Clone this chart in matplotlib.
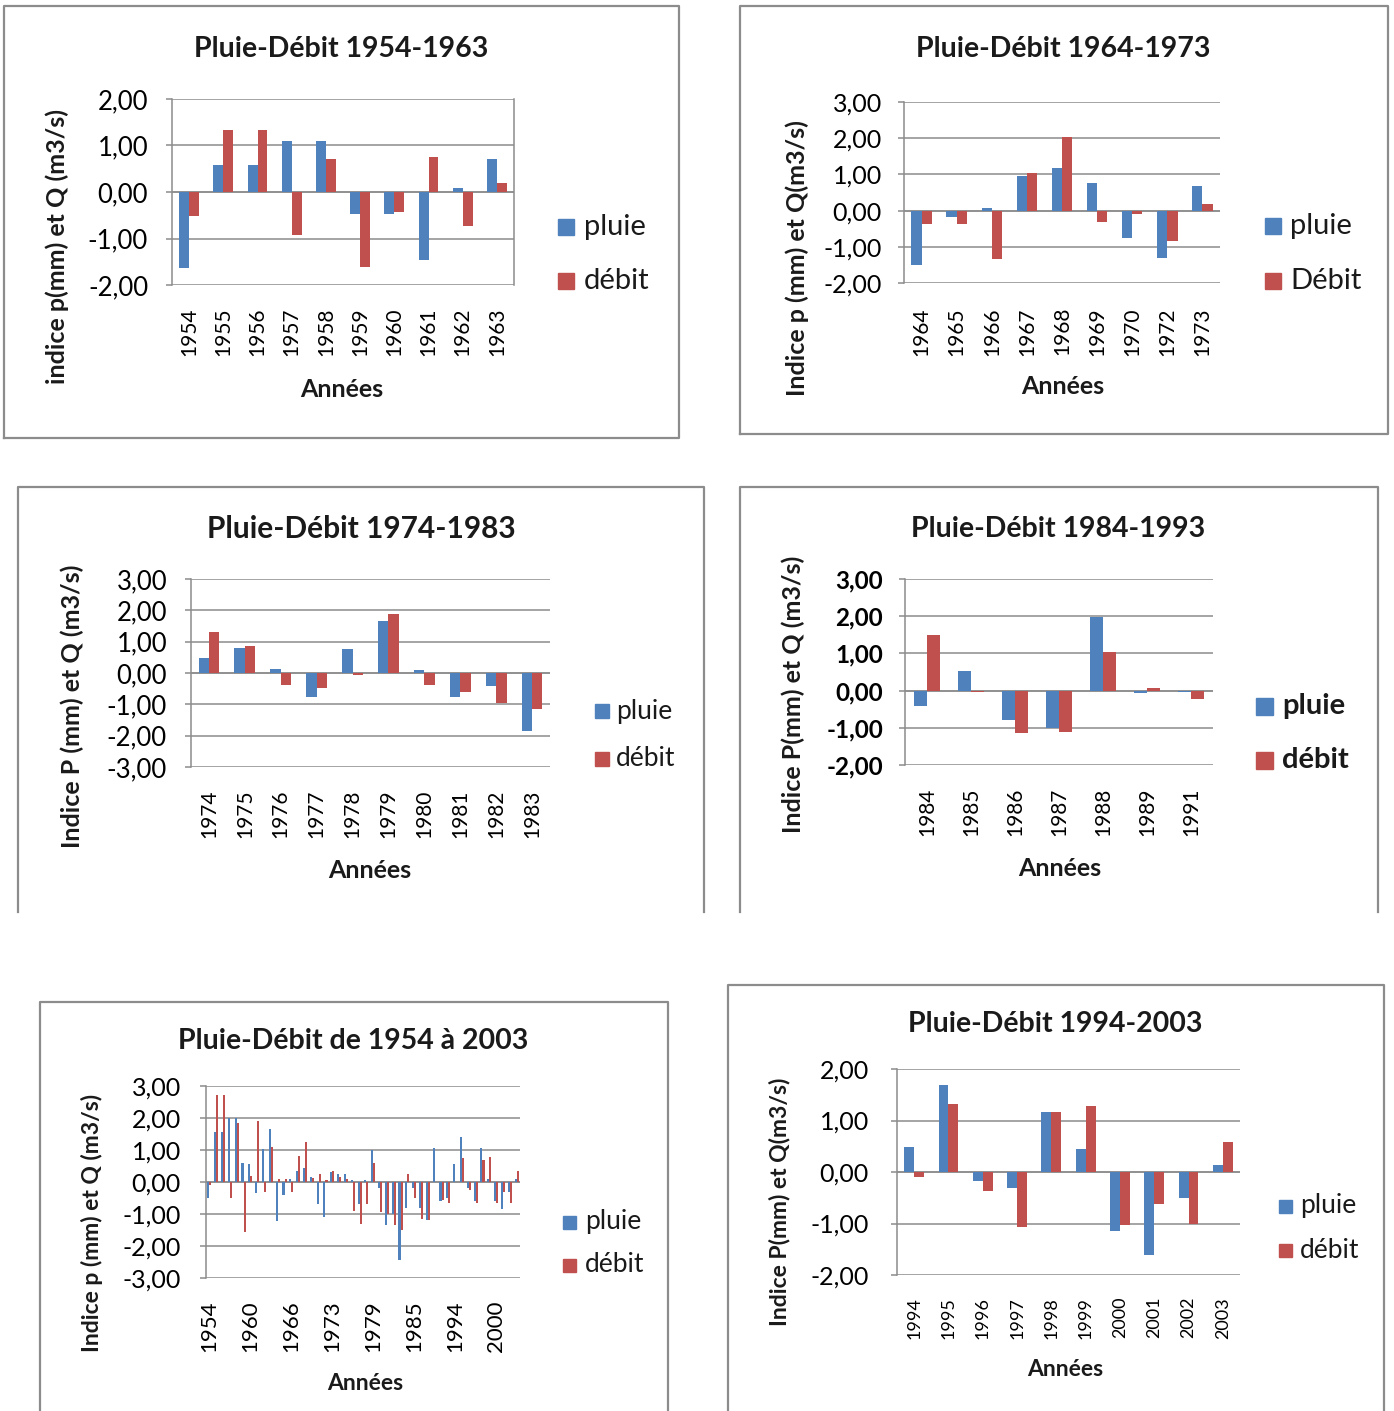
import numpy as np
import matplotlib
matplotlib.use("Agg")
import matplotlib.pyplot as plt
from matplotlib.patches import Rectangle
from matplotlib.lines import Line2D

# indices pluie / débit par décennie
years_54 = [1954, 1955, 1956, 1957, 1958, 1959, 1960, 1961, 1962, 1963]
pluie_54 = [-1.64, 0.58, 0.58, 1.10, 1.10, -0.48, -0.48, -1.47, 0.09, 0.71]
debit_54 = [-0.51, 1.33, 1.33, -0.92, 0.72, -1.61, -0.43, 0.75, -0.73, 0.20]

years_64 = [1964, 1965, 1966, 1967, 1968, 1969, 1970, 1972, 1973]
pluie_64 = [-1.51, -0.19, 0.08, 0.96, 1.18, 0.75, -0.76, -1.30, 0.69]
debit_64 = [-0.38, -0.38, -1.34, 1.03, 2.02, -0.31, -0.09, -0.84, 0.19]

years_74 = [1974, 1975, 1976, 1977, 1978, 1979, 1980, 1981, 1982, 1983]
pluie_74 = [0.48, 0.81, 0.12, -0.76, 0.77, 1.67, 0.08, -0.76, -0.41, -1.86]
debit_74 = [1.31, 0.85, -0.38, -0.47, -0.05, 1.88, -0.38, -0.60, -0.97, -1.16]

years_84 = [1984, 1985, 1986, 1987, 1988, 1989, 1991]
pluie_84 = [-0.42, 0.53, -0.80, -1.00, 1.99, -0.06, -0.03]
debit_84 = [1.49, -0.04, -1.14, -1.11, 1.04, 0.07, -0.22]

years_94 = [1994, 1995, 1996, 1997, 1998, 1999, 2000, 2001, 2002, 2003]
pluie_94 = [0.49, 1.68, -0.18, -0.31, 1.17, 0.44, -1.14, -1.61, -0.50, 0.14]
debit_94 = [-0.09, 1.32, -0.37, -1.06, 1.17, 1.29, -1.03, -0.63, -1.00, 0.58]

# série complète 1954-2003
years_all = years_54 + [1964, 1965, 1966, 1967, 1968, 1969, 1970, 1972] + \
    [1973] + years_74 + years_84 + years_94
pluie_all = [-0.50, 1.55, 1.55, 2.00, 2.00, 0.60, 0.56, -0.35, 1.04, 1.65,
             -1.23, -0.40, 0.10, 0.35, 0.45, 0.15, -0.70, -1.10,
             0.30, 0.25, 0.25, 0.05, -0.70, 0.05, 1.00, -0.20, -1.35, -1.00, -2.45,
             -0.80, -0.20, -0.80, -1.20, 1.05, -0.60, -0.50,
             0.55, 1.40, -0.20, -0.60, 1.05, 0.10, -0.60, -0.85, -0.30, 0.10]
debit_all = [-0.10, 2.73, 2.73, -0.50, 1.85, -1.55, 0.18, 1.90, -0.30, 1.10,
             0.10, 0.10, -0.30, 0.80, 1.25, 0.12, 0.25, 0.05,
             0.35, 0.15, 0.10, -0.90, -1.30, -0.70, 0.60, -0.95, -1.00, -1.35, -1.50,
             0.25, -0.50, -1.15, -1.20, 0.00, -0.55, -0.65,
             0.00, 0.75, -0.25, -0.65, 0.70, 0.78, -0.65, -0.30, -0.65, 0.33]

W, H = 1394, 1411
BLUE = "#4F81BD"
RED = "#C0504D"
GRID = "#8C8C8C"
PX = 0.72  # points per pixel at dpi 100

plt.rcParams["font.family"] = ["Lato", "DejaVu Sans"]
plt.rcParams["text.color"] = "#1a1a1a"

fig = plt.figure(figsize=(W / 100, H / 100), dpi=100)


def frame(l, t, r, b, open_bottom=False):
    xs = [l, l, r, r] if open_bottom else [l, l, r, r, l]
    ys = [b, t, t, b] if open_bottom else [b, t, t, b, b]
    fig.add_artist(Line2D([x / W for x in xs], [1 - y / H for y in ys],
                          transform=fig.transFigure, color="#8C8C8C", lw=1.6))


def fmt(v):
    return f"{v:.2f}".replace(".", ",")


def panel(years, pluie, debit, ylim, box, title, title_xy, ylabel, ylabel_xy,
          xlabel_xy, legend, names=("pluie", "débit"), tick_fs=18.5, tick_weight="normal",
          year_fs=15, title_fs=20.5, lab_fs=18, leg_fs=21, leg_weight="normal", sq=16,
          step=1, frac=0.29, ygap=24, xgap=23, right_spine=False):
    l, t, r, b = box
    ax = fig.add_axes([l / W, 1 - b / H, (r - l) / W, (b - t) / H])
    x = np.arange(len(years))
    ax.bar(x - frac / 2, pluie, frac, color=BLUE, zorder=3)
    ax.bar(x + frac / 2, debit, frac, color=RED, zorder=3)
    ax.set_xlim(-0.5, len(years) - 0.5)
    ax.set_ylim(*ylim)
    ticks = np.arange(ylim[0], ylim[1] + 0.5, 1.0)
    ax.set_yticks(ticks)
    ax.set_yticklabels([fmt(v) for v in ticks], fontsize=tick_fs, fontweight=tick_weight)
    ax.yaxis.grid(True, color=GRID, lw=1.1, zorder=0)
    ax.axhline(0, color=GRID, lw=1.1, zorder=2)
    ax.set_xticks(x[::step])
    ax.set_xticklabels([str(y) for y in years[::step]], rotation=90, fontsize=year_fs)
    ax.tick_params(axis="x", length=0, pad=xgap * PX)
    ax.tick_params(axis="y", length=6 * PX, width=1.1, color=GRID, pad=(ygap - 6) * PX)
    for s in ("top", "right", "bottom"):
        ax.spines[s].set_visible(False)
    ax.spines["left"].set_color(GRID)
    ax.spines["left"].set_linewidth(1.1)
    if right_spine:
        ax.spines["right"].set_visible(True)
        ax.spines["right"].set_color(GRID)
        ax.spines["right"].set_linewidth(1.1)
    ax.set_facecolor("none")

    fig.text(title_xy[0] / W, 1 - (title_xy[1] + 2) / H, title, ha="center", va="center",
             fontsize=title_fs, fontweight="bold")
    fig.text(ylabel_xy[0] / W, 1 - ylabel_xy[1] / H, ylabel, ha="center", va="center",
             rotation=90, fontsize=lab_fs, fontweight="bold")
    fig.text(xlabel_xy[0] / W, 1 - xlabel_xy[1] / H, "Années", ha="center", va="center",
             fontsize=lab_fs, fontweight="bold")

    sx, tx, y1, y2 = legend
    for name, color, yc in ((names[0], BLUE, y1), (names[1], RED, y2)):
        fig.add_artist(Rectangle((sx / W, 1 - (yc + sq / 2) / H), sq / W, sq / H,
                                 transform=fig.transFigure, color=color))
        fig.text(tx / W, 1 - yc / H, name, ha="left", va="center",
                 fontsize=leg_fs, fontweight=leg_weight)
    return ax


frame(4, 6, 679, 438)
panel(years_54, pluie_54, debit_54, (-2, 2), (172, 99, 514, 285),
      "Pluie-Débit 1954-1963", (341, 47), "indice p(mm) et Q (m3/s)", (57, 246),
      (342, 389), (558, 584, 227, 281), right_spine=True)

frame(740, 6, 1388, 434)
panel(years_64, pluie_64, debit_64, (-2, 3), (904, 102, 1220, 283),
      "Pluie-Débit 1964-1973", (1063, 47), "Indice p (mm) et Q(m3/s)", (797, 258),
      (1063, 387), (1265, 1290, 226, 281), names=("pluie", "Débit"), ygap=22, xgap=24,
      tick_fs=18)

frame(18, 487, 704, 912, open_bottom=True)
panel(years_74, pluie_74, debit_74, (-3, 3), (191, 579, 550, 767),
      "Pluie-Débit 1974-1983", (361, 527), "Indice P (mm) et Q (m3/s)", (72, 706),
      (370, 871), (595, 616, 711, 759), leg_fs=19, sq=14, title_fs=21.5)

frame(740, 487, 1378, 912, open_bottom=True)
panel(years_84, pluie_84, debit_84, (-2, 3), (905, 579, 1213, 765),
      "Pluie-Débit 1984-1993", (1058, 527), "Indice P(mm) et Q (m3/s)", (793, 694),
      (1060, 868), (1256, 1282, 706, 760), leg_fs=21, leg_weight="bold", sq=17,
      ygap=22, tick_fs=17.5, tick_weight="bold")

frame(40, 1002, 668, 1420, open_bottom=True)
panel(years_all, pluie_all, debit_all, (-3, 3), (206, 1086, 520, 1278),
      "Pluie-Débit de 1954 à 2003", (353, 1039), "Indice p (mm) et Q (m3/s)", (92, 1223),
      (365, 1384), (563, 585, 1222, 1265), leg_fs=19, sq=13, step=6,
      year_fs=16, frac=0.3, xgap=22, ygap=25, lab_fs=16.5, tick_fs=18)

frame(728, 985, 1384, 1420, open_bottom=True)
panel(years_94, pluie_94, debit_94, (-2, 2), (897, 1069, 1240, 1275),
      "Pluie-Débit 1994-2003", (1055, 1022), "Indice P(mm) et Q(m3/s)", (779, 1202),
      (1065, 1369), (1279, 1300, 1206, 1250), leg_fs=19, sq=13, ygap=28, xgap=22,
      year_fs=13, lab_fs=16.5, tick_fs=18)

fig.savefig("out.png", dpi=100)
